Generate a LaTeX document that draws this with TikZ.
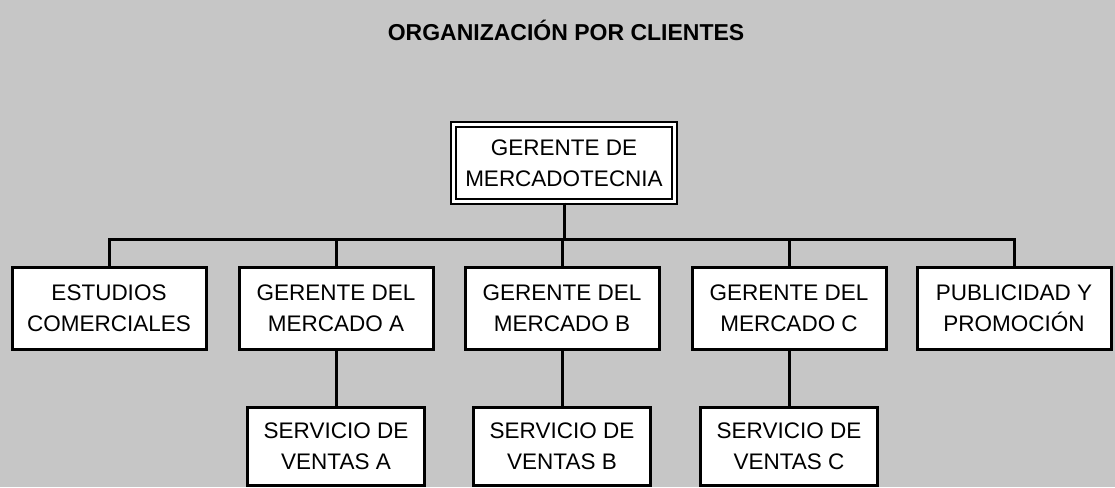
\documentclass[tikz,border=0pt]{standalone}
\usepackage{fontspec}
\setmainfont{Liberation Sans}
\usetikzlibrary{positioning}
\definecolor{fondo}{RGB}{198,198,198}
\tikzset{
    caja/.style={draw, line width=3pt, fill=white, align=center, inner sep=0pt,
        font=\fontsize{22.5}{31}\selectfont, minimum width=194pt, minimum height=82pt},
    servicio/.style={caja, minimum width=177pt, minimum height=78pt},
    linea/.style={line width=3pt},
}

\begin{document}
\begin{tikzpicture}[x=1pt, y=-1pt]
    \fill[fondo] (0,0) rectangle (1115,487);
    \useasboundingbox (0,0) rectangle (1115,487);
    \node[font=\bfseries\fontsize{23}{26}\selectfont] (titulo) at (566,30) {ORGANIZACIÓN POR CLIENTES};
    \node[caja, line width=2pt, double=white, double distance=3pt, minimum width=221pt, minimum height=77pt] (gerente) at (564,163) {GERENTE DE\\MERCADOTECNIA};
    \node[caja] (estudios) at (109,308) {ESTUDIOS\\COMERCIALES};
    \node[caja] (mercado A) at (336,308) {GERENTE DEL\\MERCADO A};
    \node[caja] (mercado B) at (562,308) {GERENTE DEL\\MERCADO B};
    \node[caja] (mercado C) at (789,308) {GERENTE DEL\\MERCADO C};
    \node[caja] (publicidad) at (1014,308) {PUBLICIDAD Y\\PROMOCIÓN};
    \node[servicio, below=55pt of mercado A] (ventas A) {SERVICIO DE\\VENTAS A};
    \node[servicio, below=55pt of mercado B] (ventas B) {SERVICIO DE\\VENTAS B};
    \node[servicio, below=55pt of mercado C] (ventas C) {SERVICIO DE\\VENTAS C};

    \draw[linea] (estudios.north) -- ++(0,-26) coordinate (bus) -| (publicidad.north);
    \draw[linea] (gerente.south) -- (gerente.south |- bus);
    \draw[linea] (mercado A.north) -- (mercado A.north |- bus);
    \draw[linea] (mercado B.north) -- (mercado B.north |- bus);
    \draw[linea] (mercado C.north) -- (mercado C.north |- bus);
    \draw[linea] (mercado A) -- (ventas A);
    \draw[linea] (mercado B) -- (ventas B);
    \draw[linea] (mercado C) -- (ventas C);
\end{tikzpicture}
\end{document}
